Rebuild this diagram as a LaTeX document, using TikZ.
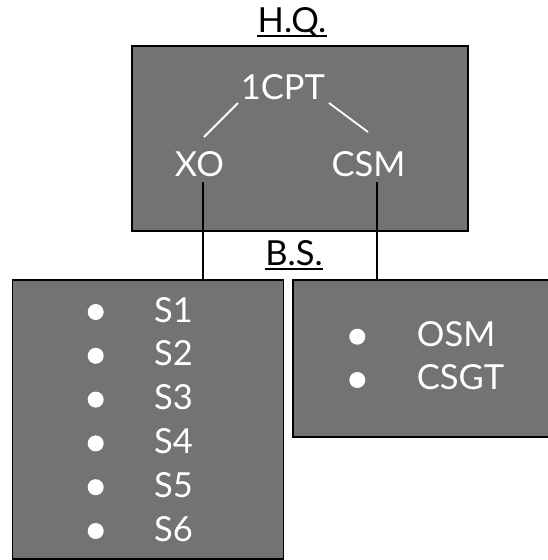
\documentclass[tikz,border=0pt]{standalone}
\usepackage{fontspec}
\setmainfont{Lato}
\definecolor{boxgrey}{RGB}{115,115,115}
\newcommand\lfont{\fontsize{34.5}{40}\selectfont}
\begin{document}
\begin{tikzpicture}[x=1pt,y=-1pt,
  box/.style={draw=black,line width=1.6pt,fill=boxgrey,inner sep=0pt,anchor=north west},
  wtxt/.style={text=white,font=\lfont,inner sep=0pt,anchor=base},
  btxt/.style={text=black,font=\lfont,inner sep=0pt,anchor=base},
  ltxt/.style={text=white,font=\lfont,inner sep=0pt,anchor=base west},
  dot/.style={circle,fill=white,inner sep=0pt,minimum size=16pt},
  wl/.style={draw=white,line width=1.8pt},
  bl/.style={draw=black,line width=1.5pt}]
\useasboundingbox (0,0) rectangle (548,560);
% boxes
\node[box,minimum width=336pt,minimum height=185pt] (hq) at (131,45) {};
\node[box,minimum width=271pt,minimum height=279pt] (lbox) at (11.7,279) {};
\node[box,minimum width=260pt,minimum height=157pt] (rbox) at (292,279) {};
% titles
\node[btxt] (hqt) at (292,32) {H.Q.};
\draw[black,line width=2pt] ([yshift=-3.5pt]hqt.base west) -- ([yshift=-3.5pt]hqt.base east);
\node[btxt] (bst) at (294,265) {B.S.};
\draw[black,line width=2pt] ([yshift=-3.5pt]bst.base west) -- ([yshift=-3.5pt]bst.base east);
% HQ contents
\node[wtxt] (cpt) at (283,99) {1CPT};
\node[wtxt] (xo) at (199.5,176) {XO};
\node[wtxt] (csm) at (368.5,176) {CSM};
\coordinate (c1) at (238,103);
\coordinate (x1) at (204,137);
\coordinate (c2) at (329,103);
\coordinate (s1) at (368,132);
\draw[wl] (c1) -- (x1);
\draw[wl] (c2) -- (s1);
% links down
\coordinate (xob) at (203,182);
\coordinate (csb) at (377,182);
\draw[bl] (xob) -- (xob |- lbox.north);
\draw[bl] (csb) -- (csb |- rbox.north);
% left list
\foreach \i/\t in {0/S1,1/S2,2/S3,3/S4,4/S5,5/S6}{
  \node[dot] (ld\i) at (95.7,312+43.8*\i) {};
  \node[ltxt] (lt\i) at (154,322+43.8*\i) {\t};
}
% right list
\node[dot] (rd0) at (357.3,336.7) {};
\node[ltxt] (rt0) at (416.7,346) {OSM};
\node[dot] (rd1) at (357.3,380) {};
\node[ltxt] (rt1) at (416.7,389) {CSGT};
\end{tikzpicture}
\end{document}
